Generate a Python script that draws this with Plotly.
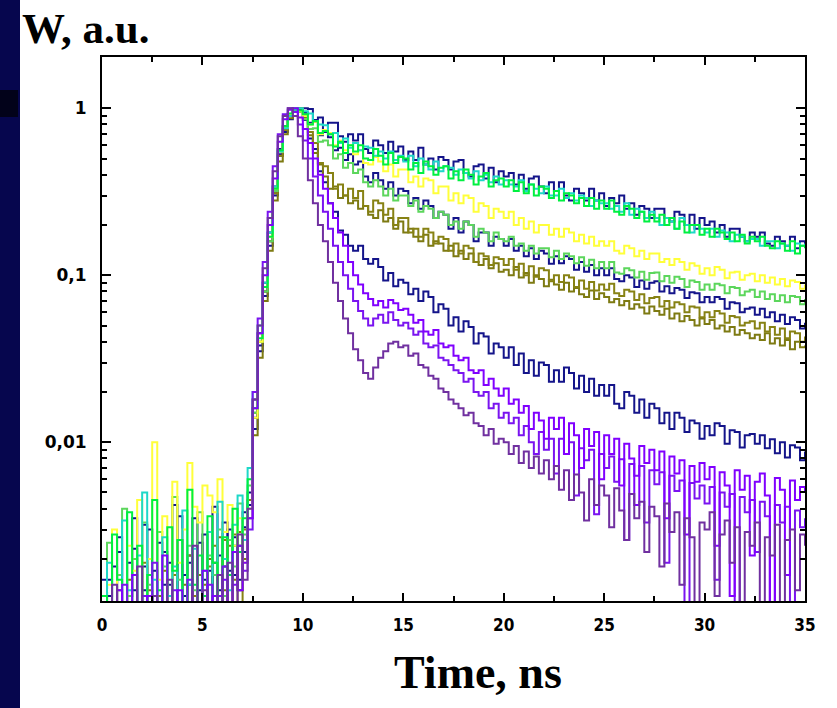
import numpy as np
import plotly.graph_objects as go

# ---- time axis (ns), 0.25 ns channels ----
t = np.round(np.arange(141) * 0.25, 2)

# ---- series values (W, a.u.) ----
navy_slow = [0.0008, 0.0015, 0.0006, 0.0022, 0.0009, 0.0012, 0.0035, 0.0007, 0.0018, 0.0011,
             0.0006, 0.0025, 0.0014, 0.0009, 0.0042, 0.0008, 0.0016, 0.0021, 0.0007, 0.0013,
             0.0028, 0.0009, 0.0019, 0.0012, 0.0033, 0.0017, 0.0024, 0.0015, 0.0031, 0.0045,
             0.012, 0.035, 0.075, 0.15, 0.30, 0.52, 0.72, 0.86, 0.95, 0.99,
             1.0, 0.99, 0.85, 0.88, 0.73, 0.82, 0.82, 0.68, 0.63, 0.70,
             0.64, 0.70, 0.57, 0.54, 0.64, 0.60, 0.54, 0.63, 0.55, 0.59,
             0.49, 0.55, 0.49, 0.58, 0.46, 0.50, 0.43, 0.51, 0.49, 0.43,
             0.48, 0.49, 0.41, 0.39, 0.45, 0.46, 0.38, 0.44, 0.36, 0.42,
             0.39, 0.41, 0.35, 0.40, 0.33, 0.38, 0.39, 0.34, 0.31, 0.36,
             0.32, 0.36, 0.30, 0.28, 0.33, 0.31, 0.28, 0.33, 0.28, 0.31,
             0.26, 0.29, 0.27, 0.30, 0.25, 0.27, 0.23, 0.26, 0.25, 0.22,
             0.25, 0.25, 0.22, 0.21, 0.24, 0.23, 0.20, 0.23, 0.19, 0.22,
             0.20, 0.21, 0.18, 0.20, 0.17, 0.19, 0.19, 0.17, 0.16, 0.18,
             0.17, 0.18, 0.155, 0.15, 0.17, 0.16, 0.15, 0.17, 0.145, 0.16,
             0.15]

green_slow = [0.0012, 0.0007, 0.0028, 0.0015, 0.0009, 0.0038, 0.0011, 0.0024, 0.0008, 0.0016,
              0.0045, 0.0013, 0.0009, 0.0031, 0.0017, 0.0026, 0.0010, 0.0052, 0.0014, 0.0021,
              0.0012, 0.0036, 0.0019, 0.0009, 0.0027, 0.0016, 0.0040, 0.0022, 0.0035, 0.0060,
              0.016, 0.042, 0.085, 0.17, 0.33, 0.56, 0.78, 0.93, 1.0, 0.97,
              0.92, 0.80, 0.84, 0.71, 0.73, 0.70, 0.59, 0.63, 0.54, 0.60,
              0.55, 0.60, 0.50, 0.49, 0.57, 0.52, 0.46, 0.54, 0.47, 0.51,
              0.50, 0.43, 0.47, 0.41, 0.48, 0.45, 0.40, 0.44, 0.45, 0.38,
              0.42, 0.37, 0.43, 0.40, 0.35, 0.39, 0.41, 0.34, 0.37, 0.38,
              0.34, 0.37, 0.32, 0.36, 0.31, 0.35, 0.30, 0.34, 0.33, 0.29,
              0.32, 0.28, 0.31, 0.30, 0.27, 0.29, 0.26, 0.29, 0.25, 0.28,
              0.25, 0.28, 0.24, 0.23, 0.26, 0.25, 0.22, 0.24, 0.21, 0.23,
              0.21, 0.23, 0.20, 0.22, 0.19, 0.21, 0.18, 0.20, 0.20, 0.175,
              0.19, 0.17, 0.19, 0.18, 0.165, 0.18, 0.16, 0.175, 0.155, 0.17,
              0.16, 0.17, 0.15, 0.145, 0.16, 0.155, 0.14, 0.16, 0.135, 0.15,
              0.145]

cyan_slow = [0.0006, 0.0019, 0.0011, 0.0008, 0.0034, 0.0013, 0.0007, 0.0021, 0.0050, 0.0010,
             0.0015, 0.0008, 0.0027, 0.0012, 0.0018, 0.0009, 0.0039, 0.0014, 0.0023, 0.0008,
             0.0017, 0.0029, 0.0011, 0.0044, 0.0020, 0.0013, 0.0032, 0.0048, 0.0026, 0.0070,
             0.020, 0.050, 0.09, 0.18, 0.34, 0.55, 0.76, 0.90, 0.98, 1.0,
             0.96, 0.93, 0.84, 0.80, 0.79, 0.70, 0.71, 0.62, 0.66, 0.58,
             0.62, 0.56, 0.59, 0.58, 0.52, 0.55, 0.50, 0.55, 0.49, 0.52,
             0.48, 0.52, 0.45, 0.50, 0.46, 0.43, 0.48, 0.42, 0.45, 0.44,
             0.40, 0.43, 0.41, 0.38, 0.42, 0.37, 0.40, 0.36, 0.39, 0.35,
             0.37, 0.35, 0.34, 0.37, 0.32, 0.35, 0.33, 0.31, 0.34, 0.30,
             0.30, 0.33, 0.29, 0.31, 0.28, 0.30, 0.29, 0.26, 0.28, 0.27,
             0.27, 0.25, 0.26, 0.24, 0.27, 0.23, 0.25, 0.24, 0.22, 0.24,
             0.22, 0.20, 0.22, 0.21, 0.19, 0.22, 0.20, 0.18, 0.20, 0.19,
             0.18, 0.19, 0.17, 0.185, 0.18, 0.16, 0.175, 0.17, 0.16, 0.165,
             0.165, 0.15, 0.16, 0.16, 0.145, 0.155, 0.15, 0.14, 0.155, 0.15,
             0.155]

yellow_mid = [0.0009, 0.0014, 0.0030, 0.0011, 0.0008, 0.0024, 0.0017, 0.0045, 0.0012, 0.0020,
              0.0100, 0.0015, 0.0036, 0.0009, 0.0058, 0.0019, 0.0030, 0.0075, 0.0041, 0.0033,
              0.0055, 0.0048, 0.0038, 0.0060, 0.0029, 0.0042, 0.0024, 0.0035, 0.0019, 0.0040,
              0.014, 0.040, 0.085, 0.17, 0.33, 0.55, 0.77, 0.92, 1.0, 0.96,
              0.90, 0.80, 0.83, 0.70, 0.74, 0.71, 0.60, 0.64, 0.56, 0.60,
              0.53, 0.56, 0.47, 0.46, 0.51, 0.48, 0.42, 0.46, 0.39, 0.43,
              0.43, 0.36, 0.39, 0.34, 0.38, 0.37, 0.31, 0.34, 0.34, 0.28,
              0.31, 0.27, 0.30, 0.29, 0.24, 0.27, 0.26, 0.22, 0.25, 0.24,
              0.22, 0.24, 0.20, 0.22, 0.19, 0.21, 0.18, 0.20, 0.20, 0.175,
              0.19, 0.17, 0.19, 0.18, 0.16, 0.175, 0.155, 0.17, 0.15, 0.16,
              0.15, 0.16, 0.14, 0.135, 0.15, 0.145, 0.13, 0.14, 0.125, 0.135,
              0.135, 0.12, 0.125, 0.115, 0.125, 0.12, 0.108, 0.118, 0.114, 0.102,
              0.11, 0.10, 0.112, 0.108, 0.096, 0.104, 0.105, 0.094, 0.10, 0.102,
              0.092, 0.10, 0.09, 0.097, 0.088, 0.095, 0.086, 0.093, 0.091, 0.083,
              0.088]

lightgreen_mid = [0.0010, 0.0025, 0.0008, 0.0016, 0.0040, 0.0012, 0.0020, 0.0009, 0.0033, 0.0014,
                  0.0007, 0.0029, 0.0018, 0.0011, 0.0047, 0.0015, 0.0009, 0.0024, 0.0013, 0.0038,
                  0.0010, 0.0021, 0.0016, 0.0030, 0.0012, 0.0026, 0.0018, 0.0043, 0.0028, 0.0055,
                  0.015, 0.040, 0.08, 0.16, 0.32, 0.55, 0.77, 0.92, 1.0, 0.95,
                  0.86, 0.75, 0.76, 0.63, 0.64, 0.60, 0.50, 0.53, 0.44, 0.47,
                  0.41, 0.43, 0.36, 0.34, 0.37, 0.34, 0.30, 0.33, 0.28, 0.30,
                  0.30, 0.26, 0.28, 0.24, 0.26, 0.25, 0.22, 0.24, 0.23, 0.20,
                  0.21, 0.19, 0.21, 0.20, 0.17, 0.19, 0.18, 0.16, 0.18, 0.165,
                  0.16, 0.17, 0.15, 0.155, 0.14, 0.15, 0.135, 0.145, 0.145, 0.128,
                  0.14, 0.125, 0.135, 0.13, 0.118, 0.128, 0.114, 0.124, 0.11, 0.12,
                  0.11, 0.12, 0.104, 0.102, 0.11, 0.107, 0.097, 0.105, 0.094, 0.103,
                  0.104, 0.092, 0.099, 0.09, 0.098, 0.095, 0.085, 0.093, 0.091, 0.082,
                  0.088, 0.082, 0.089, 0.087, 0.078, 0.085, 0.084, 0.076, 0.08, 0.082,
                  0.074, 0.08, 0.072, 0.077, 0.07, 0.076, 0.069, 0.075, 0.074, 0.067,
                  0.072]

navy_mid = [0.0015, 0.0008, 0.0011, 0.0027, 0.0006, 0.0019, 0.0013, 0.0009, 0.0032, 0.0010,
            0.0017, 0.0007, 0.0022, 0.0014, 0.0008, 0.0036, 0.0012, 0.0019, 0.0009, 0.0025,
            0.0015, 0.0011, 0.0041, 0.0013, 0.0018, 0.0030, 0.0016, 0.0024, 0.0038, 0.0050,
            0.018, 0.045, 0.09, 0.18, 0.34, 0.57, 0.78, 0.92, 0.99, 1.0,
            0.94, 0.82, 0.83, 0.69, 0.72, 0.67, 0.56, 0.58, 0.49, 0.53,
            0.46, 0.48, 0.39, 0.36, 0.41, 0.37, 0.33, 0.36, 0.30, 0.33,
            0.32, 0.27, 0.29, 0.25, 0.28, 0.26, 0.22, 0.24, 0.23, 0.19,
            0.22, 0.18, 0.21, 0.20, 0.16, 0.18, 0.18, 0.15, 0.17, 0.165,
            0.15, 0.165, 0.14, 0.15, 0.13, 0.145, 0.125, 0.14, 0.135, 0.117,
            0.13, 0.118, 0.13, 0.125, 0.108, 0.12, 0.105, 0.115, 0.10, 0.11,
            0.10, 0.11, 0.095, 0.092, 0.10, 0.097, 0.085, 0.093, 0.083, 0.09,
            0.092, 0.08, 0.086, 0.078, 0.084, 0.082, 0.073, 0.079, 0.078, 0.069,
            0.074, 0.069, 0.074, 0.072, 0.063, 0.069, 0.068, 0.06, 0.063, 0.064,
            0.058, 0.063, 0.056, 0.06, 0.053, 0.058, 0.051, 0.056, 0.054, 0.048,
            0.052]

olive_a = [0.0006, 0.0009, 0.0007, 0.0013, 0.0006, 0.0008, 0.0011, 0.0007, 0.0019, 0.0008,
           0.0006, 0.0012, 0.0009, 0.0007, 0.0016, 0.0010, 0.0008, 0.0021, 0.0012, 0.0009,
           0.0014, 0.0018, 0.0024, 0.0008, 0.0026, 0.0009, 0.0028, 0.0007, 0.0030, 0.0045,
           0.015, 0.040, 0.08, 0.16, 0.31, 0.52, 0.74, 0.90, 0.98, 1.0,
           0.90, 0.72, 0.62, 0.47, 0.45, 0.41, 0.33, 0.35, 0.30, 0.33,
           0.29, 0.32, 0.26, 0.24, 0.28, 0.27, 0.23, 0.25, 0.20, 0.22,
           0.22, 0.18, 0.19, 0.17, 0.19, 0.18, 0.155, 0.17, 0.165, 0.14,
           0.155, 0.135, 0.15, 0.145, 0.12, 0.135, 0.13, 0.115, 0.128, 0.125,
           0.115, 0.125, 0.108, 0.117, 0.10, 0.113, 0.098, 0.11, 0.107, 0.092,
           0.10, 0.091, 0.10, 0.097, 0.085, 0.093, 0.083, 0.091, 0.081, 0.088,
           0.082, 0.089, 0.078, 0.075, 0.082, 0.08, 0.071, 0.077, 0.068, 0.073,
           0.074, 0.065, 0.07, 0.064, 0.069, 0.067, 0.06, 0.065, 0.064, 0.056,
           0.06, 0.056, 0.061, 0.059, 0.052, 0.057, 0.056, 0.05, 0.052, 0.053,
           0.048, 0.052, 0.046, 0.049, 0.044, 0.048, 0.042, 0.046, 0.045, 0.04,
           0.043]

olive_b = [0.0008, 0.0006, 0.0011, 0.0007, 0.0009, 0.0015, 0.0006, 0.0010, 0.0008, 0.0013,
           0.0007, 0.0009, 0.0017, 0.0008, 0.0011, 0.0007, 0.0014, 0.0009, 0.0010, 0.0016,
           0.0008, 0.0020, 0.0011, 0.0027, 0.0013, 0.0024, 0.0015, 0.0029, 0.0020, 0.0035,
           0.011, 0.032, 0.07, 0.14, 0.28, 0.48, 0.70, 0.87, 0.97, 1.0,
           0.88, 0.69, 0.54, 0.46, 0.39, 0.33, 0.34, 0.29, 0.30, 0.27,
           0.28, 0.25, 0.26, 0.23, 0.22, 0.245, 0.21, 0.22, 0.19, 0.21,
           0.18, 0.19, 0.17, 0.16, 0.175, 0.15, 0.16, 0.155, 0.14, 0.15,
           0.13, 0.14, 0.125, 0.135, 0.12, 0.115, 0.125, 0.11, 0.118, 0.105,
           0.108, 0.10, 0.112, 0.097, 0.103, 0.09, 0.10, 0.095, 0.086, 0.094,
           0.088, 0.082, 0.09, 0.08, 0.084, 0.077, 0.074, 0.081, 0.072, 0.078,
           0.074, 0.069, 0.072, 0.066, 0.07, 0.063, 0.067, 0.064, 0.059, 0.065,
           0.061, 0.058, 0.063, 0.055, 0.059, 0.053, 0.057, 0.054, 0.05, 0.055,
           0.051, 0.054, 0.048, 0.05, 0.046, 0.049, 0.044, 0.047, 0.045, 0.042,
           0.044, 0.041, 0.045, 0.039, 0.042, 0.038, 0.041, 0.036, 0.04, 0.037,
           0.038]

navy_fast = [0.0007, 0.0012, 0.0018, 0.0008, 0.0010, 0.0006, 0.0023, 0.0009, 0.0013, 0.0030,
             0.0008, 0.0011, 0.0007, 0.0019, 0.0010, 0.0026, 0.0008, 0.0014, 0.0035, 0.0009,
             0.0012, 0.0017, 0.0008, 0.0021, 0.0011, 0.0016, 0.0027, 0.0013, 0.0022, 0.0042,
             0.014, 0.038, 0.08, 0.16, 0.31, 0.53, 0.75, 0.90, 0.98, 1.0,
             0.85, 0.66, 0.57, 0.42, 0.36, 0.27, 0.24, 0.185, 0.175, 0.15,
             0.14, 0.15, 0.125, 0.117, 0.125, 0.112, 0.093, 0.103, 0.086, 0.094,
             0.09, 0.077, 0.083, 0.07, 0.08, 0.074, 0.06, 0.067, 0.063, 0.05,
             0.056, 0.046, 0.053, 0.049, 0.039, 0.045, 0.043, 0.034, 0.039, 0.037,
             0.032, 0.037, 0.029, 0.034, 0.026, 0.031, 0.025, 0.03, 0.029, 0.023,
             0.027, 0.023, 0.028, 0.026, 0.021, 0.025, 0.02, 0.024, 0.019, 0.022,
             0.019, 0.022, 0.017, 0.016, 0.02, 0.019, 0.015, 0.018, 0.014, 0.017,
             0.016, 0.013, 0.015, 0.012, 0.015, 0.014, 0.0115, 0.0135, 0.013, 0.0105,
             0.0125, 0.011, 0.013, 0.0125, 0.0098, 0.0118, 0.0115, 0.0093, 0.011, 0.0112,
             0.0098, 0.011, 0.0092, 0.0104, 0.0086, 0.01, 0.0081, 0.0096, 0.0093, 0.0078,
             0.0088]

purple_dark = [0.0009, 0.0006, 0.0014, 0.0008, 0.0007, 0.0011, 0.0006, 0.0018, 0.0009, 0.0007,
               0.0012, 0.0008, 0.0006, 0.0015, 0.0009, 0.0007, 0.0011, 0.0008, 0.0024, 0.0009,
               0.0013, 0.0007, 0.0010, 0.0016, 0.0008, 0.0019, 0.0011, 0.0028, 0.0015, 0.0040,
               0.018, 0.05, 0.11, 0.22, 0.42, 0.68, 0.90, 1.0, 0.90, 0.68,
               0.50, 0.37, 0.27, 0.20, 0.16, 0.12, 0.09, 0.07, 0.055, 0.045,
               0.036, 0.031, 0.026, 0.024, 0.028, 0.032, 0.035, 0.039, 0.04, 0.037,
               0.038, 0.033, 0.034, 0.029, 0.028, 0.025, 0.024, 0.021, 0.02, 0.018,
               0.017, 0.016, 0.0145, 0.015, 0.013, 0.0125, 0.011, 0.012, 0.0098, 0.0105,
               0.01, 0.0085, 0.0095, 0.0075, 0.0088, 0.007, 0.0082, 0.0065, 0.0078, 0.006,
               0.0072, 0.0052, 0.0068, 0.0045, 0.0064, 0.005, 0.0034, 0.006, 0.0042, 0.0055,
               0.0048, 0.0031, 0.0053, 0.0039, 0.0026, 0.0049, 0.0035, 0.0044, 0.0022, 0.0041,
               0.0036, 0.0018, 0.0043, 0.0029, 0.0038, 0.0014, 0.0035, 0.0027, 0.0009, 0.0033,
               0.003, 0.0038, 0.0012, 0.0028, 0.0034, 0.0019, 0.0031, 0.0007, 0.0029, 0.0024,
               0.0033, 0.0011, 0.0027, 0.0021, 0.0032, 0.0008, 0.0026, 0.003, 0.0013, 0.0028,
               0.0024]

purple_a = [0.0007, 0.0010, 0.0006, 0.0013, 0.0008, 0.0006, 0.0016, 0.0009, 0.0007, 0.0012,
            0.0006, 0.0010, 0.0021, 0.0008, 0.0006, 0.0013, 0.0009, 0.0007, 0.0011, 0.0006,
            0.0017, 0.0009, 0.0012, 0.0007, 0.0015, 0.0010, 0.0022, 0.0013, 0.0019, 0.0035,
            0.016, 0.045, 0.10, 0.20, 0.38, 0.63, 0.86, 0.98, 1.0, 0.88,
            0.75, 0.62, 0.50, 0.40, 0.33, 0.27, 0.22, 0.18, 0.15, 0.12,
            0.10, 0.088, 0.078, 0.072, 0.066, 0.07, 0.064, 0.071, 0.068, 0.062,
            0.063, 0.058, 0.052, 0.054, 0.046, 0.044, 0.047, 0.039, 0.037, 0.038,
            0.033, 0.031, 0.032, 0.027, 0.026, 0.027, 0.022, 0.024, 0.021, 0.019,
            0.021, 0.017, 0.018, 0.015, 0.0165, 0.012, 0.015, 0.0135, 0.0105, 0.014,
            0.012, 0.014, 0.0085, 0.013, 0.011, 0.007, 0.012, 0.0095, 0.0115, 0.006,
            0.011, 0.0085, 0.0105, 0.0055, 0.0098, 0.008, 0.0042, 0.0095, 0.0075, 0.009,
            0.0068, 0.0088, 0.0035, 0.0082, 0.0065, 0.0078, 0.0028, 0.0072, 0.0058, 0.0075,
            0.006, 0.0071, 0.0024, 0.0066, 0.0055, 0.0012, 0.0068, 0.0052, 0.0063, 0.0021,
            0.0058, 0.0065, 0.0048, 0.0009, 0.0061, 0.0052, 0.0016, 0.0059, 0.0045, 0.0054,
            0.005]

purple_b = [0.0008, 0.0006, 0.0011, 0.0007, 0.0014, 0.0006, 0.0009, 0.0007, 0.0012, 0.0008,
            0.0019, 0.0006, 0.0009, 0.0007, 0.0013, 0.0008, 0.0006, 0.0015, 0.0010, 0.0007,
            0.0009, 0.0014, 0.0008, 0.0012, 0.0018, 0.0009, 0.0014, 0.0024, 0.0017, 0.0030,
            0.02, 0.055, 0.12, 0.24, 0.45, 0.70, 0.92, 1.0, 0.95, 0.80,
            0.64, 0.50, 0.39, 0.30, 0.24, 0.19, 0.15, 0.12, 0.10, 0.083,
            0.07, 0.061, 0.055, 0.05, 0.055, 0.058, 0.052, 0.06, 0.054, 0.05,
            0.052, 0.048, 0.044, 0.046, 0.039, 0.037, 0.038, 0.032, 0.031, 0.029,
            0.027, 0.026, 0.023, 0.024, 0.02, 0.019, 0.02, 0.016, 0.017, 0.014,
            0.015, 0.013, 0.014, 0.011, 0.0125, 0.01, 0.0085, 0.0115, 0.009, 0.0105,
            0.0065, 0.0105, 0.0085, 0.01, 0.0048, 0.0092, 0.0078, 0.009, 0.0037, 0.0085,
            0.007, 0.0082, 0.0058, 0.0079, 0.0026, 0.0074, 0.0063, 0.0072, 0.0033, 0.0068,
            0.0056, 0.0066, 0.0019, 0.0063, 0.0051, 0.0059, 0.0008, 0.0057, 0.0046, 0.0055,
            0.0043, 0.0054, 0.0015, 0.005, 0.0041, 0.0049, 0.0007, 0.0047, 0.0038, 0.0045,
            0.0022, 0.0044, 0.0036, 0.0011, 0.0042, 0.0033, 0.0041, 0.0009, 0.0039, 0.0031,
            0.0035]

series = [
    ("navy fast", navy_fast, "#14148a"),
    ("navy mid", navy_mid, "#14148a"),
    ("navy slow", navy_slow, "#14148a"),
    ("olive b", olive_b, "#7d7a12"),
    ("olive a", olive_a, "#878214"),
    ("light green", lightgreen_mid, "#5cd65c"),
    ("yellow", yellow_mid, "#ffff3a"),
    ("cyan", cyan_slow, "#1ed8c8"),
    ("green", green_slow, "#00f040"),
    ("purple b", purple_b, "#7a14f0"),
    ("purple a", purple_a, "#8000ff"),
    ("purple dark", purple_dark, "#7030a0"),
]

x_ticks = [0, 5, 10, 15, 20, 25, 30, 35]
x_minor = [2.5, 7.5, 12.5, 17.5, 22.5, 27.5, 32.5]
y_ticks = [0.01, 0.1, 1]
y_ticktext = ["0,01", "0,1", "1"]
y_minor = [0.002, 0.003, 0.004, 0.005, 0.006, 0.007, 0.008, 0.009,
           0.02, 0.03, 0.04, 0.05, 0.06, 0.07, 0.08, 0.09,
           0.2, 0.3, 0.4, 0.5, 0.6, 0.7, 0.8, 0.9, 2]

fig = go.Figure()
for name, vals, col in series:
    fig.add_trace(go.Scatter(x=t, y=vals, mode="lines", name=name,
                             line=dict(color=col, width=2, shape="hv"),
                             showlegend=False, hoverinfo="skip"))

L, R, T, B = 102, 32, 57, 107
W, H = 837, 708
pw, ph = W - L - R, H - T - B

def px(x):
    return (x - L) / pw

def py(y):
    return 1 - (y - T) / ph

fig.update_layout(
    width=W, height=H,
    margin=dict(l=L, r=R, t=T, b=B, pad=0),
    paper_bgcolor="white", plot_bgcolor="white",
    showlegend=False,
    xaxis=dict(range=[0, 35], tickmode="array", tickvals=x_ticks,
               ticktext=[str(v) for v in x_ticks],
               ticks="inside", ticklen=8, tickwidth=1.5, tickcolor="black",
               minor=dict(tickmode="array", tickvals=x_minor, ticks="inside",
                          ticklen=5, tickwidth=1.5, tickcolor="black", showgrid=False),
               showline=True, linecolor="black", linewidth=2, mirror="ticks",
               showgrid=False, zeroline=False,
               ticklabelstandoff=8,
               tickfont=dict(family="DejaVu Sans Condensed, DejaVu Sans", size=17,
                             color="black", weight="bold")),
    yaxis=dict(type="log", range=[-2.951, 0.307], tickmode="array",
               tickvals=y_ticks, ticktext=y_ticktext,
               ticks="inside", ticklen=9, tickwidth=1.5, tickcolor="black",
               minor=dict(tickmode="array", tickvals=y_minor, ticks="inside",
                          ticklen=5, tickwidth=1.5, tickcolor="black", showgrid=False),
               showline=True, linecolor="black", linewidth=2, mirror="ticks",
               showgrid=False, zeroline=False,
               ticklabelstandoff=10,
               tickfont=dict(family="DejaVu Sans", size=17, color="black", weight="bold")),
    shapes=[
        dict(type="rect", xref="paper", yref="paper", x0=px(0), x1=px(20),
             y0=py(H), y1=py(0), fillcolor="#06064e", line=dict(width=0), layer="below"),
        dict(type="rect", xref="paper", yref="paper", x0=px(0), x1=px(18),
             y0=py(117), y1=py(90), fillcolor="#02021a", line=dict(width=0), layer="below"),
    ],
    annotations=[
        dict(text="<b>W, a.u.</b>", xref="paper", yref="paper", x=px(20), y=py(28),
             xanchor="left", yanchor="middle", showarrow=False,
             font=dict(family="Liberation Serif, Times New Roman, serif", size=43, color="black")),
        dict(text="<b>Time, ns</b>", xref="paper", yref="paper", x=px(478), y=py(672),
             xanchor="center", yanchor="middle", showarrow=False,
             font=dict(family="Liberation Serif, Times New Roman, serif", size=46, color="black")),
    ],
)

fig.write_html("out.html")
